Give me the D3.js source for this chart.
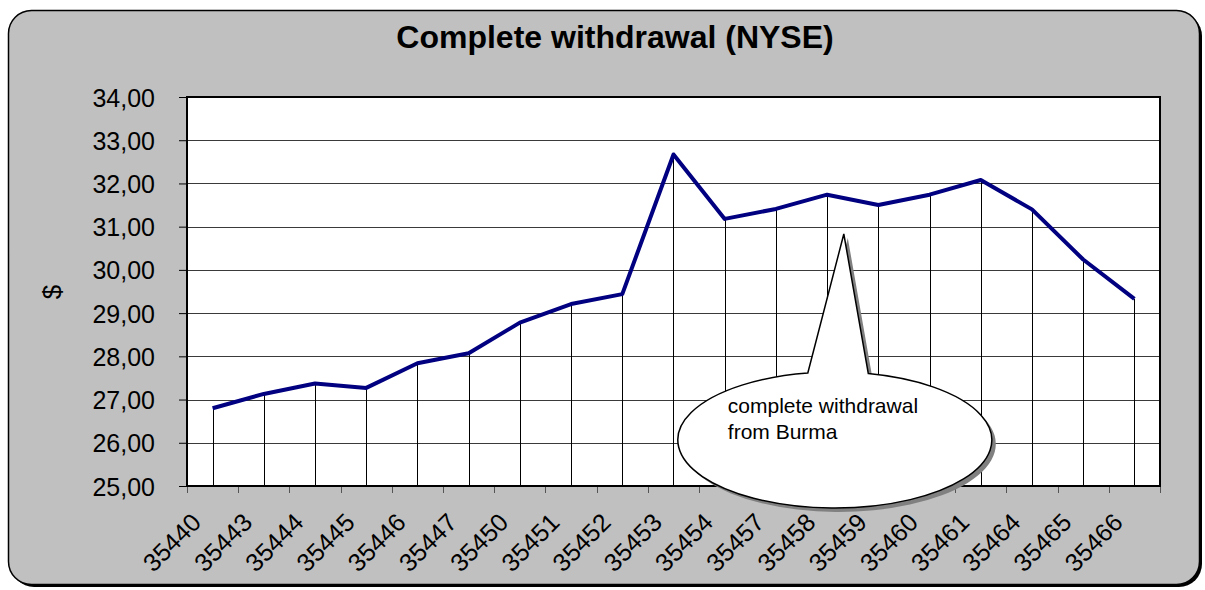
<!DOCTYPE html>
<html>
<head>
    <title>Complete withdrawal (NYSE)</title>
    <script src="https://d3js.org/d3.v7.min.js"></script>
    <style>
        body { margin: 0; background: #fff; }
        text { font-family: "Liberation Sans", Arial, sans-serif; fill: #000; }
        .grid { stroke: #3a3a3a; stroke-width: 1px; shape-rendering: crispEdges; }
        .drop { stroke: #000; stroke-width: 1px; shape-rendering: crispEdges; }
        .price { fill: none; stroke: #000080; stroke-width: 4px; stroke-linejoin: round; }
    </style>
</head>
<body>
    <svg width="1205" height="590"></svg>
    <script>
        // trading days (serial numbers as shown on the axis)
        var days = ["35440", "35443", "35444", "35445", "35446", "35447", "35450",
                    "35451", "35452", "35453", "35454", "35457", "35458", "35459",
                    "35460", "35461", "35464", "35465", "35466"];
        // closing price in $
        var prices = [26.80, 27.13, 27.37, 27.27, 27.84, 28.07, 28.78, 29.21, 29.44,
                      32.67, 31.18, 31.41, 31.74, 31.50, 31.74, 32.08, 31.40, 30.24, 29.33];
        var yTicks = [25, 26, 27, 28, 29, 30, 31, 32, 33, 34];
        var calloutLines = ["complete withdrawal", "from Burma"];
        var calloutDay = "35458"; // callout sits between 35458 and 35459

        var svg = d3.select("svg");
        var plotL = 187, plotR = 1160, plotT = 97, plotB = 486;

        // outer frame with shadow
        svg.append("rect")
            .attr("x", 11).attr("y", 13)
            .attr("width", 1191).attr("height", 574)
            .attr("rx", 23)
            .attr("fill", "#000");
        svg.append("rect")
            .attr("x", 8.5).attr("y", 10.5)
            .attr("width", 1191).attr("height", 574)
            .attr("rx", 23)
            .attr("fill", "#c0c0c0")
            .attr("stroke", "#000")
            .attr("stroke-width", 1.5);

        svg.append("text")
            .attr("x", 615).attr("y", 48)
            .attr("text-anchor", "middle")
            .style("font-size", "32px")
            .style("font-weight", "bold")
            .text("Complete withdrawal (NYSE)");

        var x = d3.scaleBand().domain(days).range([plotL, plotR]);
        var y = d3.scaleLinear().domain([25, 34]).range([plotB, plotT]);

        svg.append("rect")
            .attr("x", plotL).attr("y", plotT)
            .attr("width", plotR - plotL).attr("height", plotB - plotT)
            .attr("fill", "#fff");

        svg.selectAll(".grid")
            .data(yTicks.slice(1, -1))
            .enter().append("line")
            .attr("class", "grid")
            .attr("x1", plotL).attr("x2", plotR)
            .attr("y1", function(d) { return Math.round(y(d)) + 0.5; })
            .attr("y2", function(d) { return Math.round(y(d)) + 0.5; });

        svg.selectAll(".drop")
            .data(days)
            .enter().append("line")
            .attr("class", "drop")
            .attr("x1", function(d) { return Math.round(x(d) + x.bandwidth() / 2) + 0.5; })
            .attr("x2", function(d) { return Math.round(x(d) + x.bandwidth() / 2) + 0.5; })
            .attr("y1", function(d, i) { return y(prices[i]); })
            .attr("y2", plotB);

        // y axis
        var yAxis = svg.append("g")
            .attr("transform", "translate(" + plotL + ",0)")
            .call(d3.axisLeft(y).tickValues(yTicks).tickSize(8).tickPadding(24)
                .tickFormat(function(d) { return d3.format(".2f")(d).replace(".", ","); }));
        yAxis.select(".domain").remove();
        yAxis.selectAll("line").attr("stroke", "#000");
        yAxis.selectAll("text")
            .attr("dy", "0.36em")
            .style("font-size", "25px");

        // x axis: ticks at band edges, rotated labels
        var edges = days.map(function(d) { return x(d); }).concat([plotR]);
        svg.selectAll(".xtick")
            .data(edges)
            .enter().append("line")
            .attr("class", "xtick")
            .attr("x1", function(d) { return Math.round(d) + 0.5; })
            .attr("x2", function(d) { return Math.round(d) + 0.5; })
            .attr("y1", plotB).attr("y2", plotB + 7)
            .attr("stroke", "#555");

        svg.selectAll(".xlabel")
            .data(days)
            .enter().append("text")
            .attr("class", "xlabel")
            .attr("text-anchor", "end")
            .style("font-size", "25px")
            .attr("transform", function(d) {
                return "translate(" + (x(d) + x.bandwidth() / 2 - 10) + "," + 524 + ") rotate(-45)";
            })
            .text(function(d) { return d; });

        svg.append("text")
            .attr("transform", "translate(61,292) rotate(-90)")
            .attr("text-anchor", "middle")
            .style("font-size", "26px")
            .text("$");

        var line = d3.line()
            .x(function(d, i) { return x(days[i]) + x.bandwidth() / 2; })
            .y(function(d) { return y(d); });

        svg.append("path")
            .datum(prices)
            .attr("class", "price")
            .attr("d", line);

        svg.append("rect")
            .attr("x", plotL).attr("y", plotT)
            .attr("width", plotR - plotL).attr("height", plotB - plotT)
            .attr("fill", "none")
            .attr("stroke", "#000")
            .attr("stroke-width", 2);

        // speech-bubble callout
        var cx = x(calloutDay) + x.bandwidth() * 0.65, cy = 440, rx = 157, ry = 68;
        var tip = [cx + 9, 234];
        function bubble(dx, dy) {
            var a1 = Math.acos(-27 / rx), a2 = Math.acos(33.5 / rx);
            var p1 = [cx + rx * Math.cos(a1), cy - ry * Math.sin(a1)];
            var p2 = [cx + rx * Math.cos(a2), cy - ry * Math.sin(a2)];
            var path = d3.path();
            path.moveTo(p2[0] + dx, p2[1] + dy);
            path.lineTo(tip[0] + dx, tip[1] + dy);
            path.lineTo(p1[0] + dx, p1[1] + dy);
            return path.toString() +
                "A" + rx + "," + ry + " 0 1 0 " + (p2[0] + dx) + "," + (p2[1] + dy) + "Z";
        }
        svg.append("path")
            .attr("d", bubble(4, 4))
            .attr("fill", "#808080");
        svg.append("path")
            .attr("d", bubble(0, 0))
            .attr("fill", "#fff")
            .attr("stroke", "#000")
            .attr("stroke-width", 1.5);

        svg.selectAll(".callout")
            .data(calloutLines)
            .enter().append("text")
            .attr("class", "callout")
            .attr("x", cx - 107)
            .attr("y", function(d, i) { return 413 + i * 26; })
            .style("font-size", "21px")
            .text(function(d) { return d; });
    </script>
</body>
</html>
